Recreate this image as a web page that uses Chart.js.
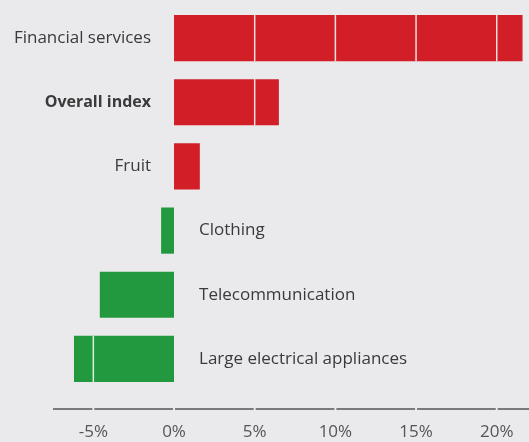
<!DOCTYPE html>
<html>
<head>
<meta charset="utf-8">
<script src="https://cdn.jsdelivr.net/npm/chart.js@4/dist/chart.umd.min.js"></script>
<style>
  html, body { margin: 0; padding: 0; background: #eaeaed; }
  #wrap { width: 529px; height: 442px; }
</style>
</head>
<body>
<div id="wrap"><canvas id="chart" width="529" height="442"></canvas></div>
<script>
// Price change by category, per cent
const categories = ['Financial services', 'Overall index', 'Fruit', 'Clothing', 'Telecommunication', 'Large electrical appliances'];
const changes = [21.6, 6.5, 1.6, -0.8, -4.6, -6.2];
const tickValues = [-5, 0, 5, 10, 15, 20];
const boldCategory = 'Overall index';

const BG = '#eaeaed';
const RED = '#d21f27';
const GREEN = '#22993e';
const TEXT = '#3a3a3a';
const FONT = '"Open Sans", "DejaVu Sans", sans-serif';

// Draws the background, the base axis line, white grid lines over the bars and the category names
const decorations = {
  id: 'decorations',
  beforeDraw(chart) {
    const ctx = chart.ctx;
    ctx.save();
    ctx.fillStyle = BG;
    ctx.fillRect(0, 0, chart.width, chart.height);
    ctx.restore();
  },
  afterDatasetsDraw(chart) {
    const ctx = chart.ctx;
    const xs = chart.scales.x;
    const area = chart.chartArea;
    const meta = chart.getDatasetMeta(0);

    // axis line below the bars, broken at each tick
    const axisY = area.bottom + 18;
    ctx.save();
    ctx.strokeStyle = '#555555';
    ctx.lineWidth = 1.6;
    ctx.beginPath();
    ctx.moveTo(area.left, axisY);
    ctx.lineTo(area.right, axisY);
    ctx.stroke();
    ctx.fillStyle = BG;
    tickValues.forEach(v => {
      const px = xs.getPixelForValue(v);
      ctx.fillRect(px - 1, axisY - 2, 2, 4);
    });
    ctx.restore();

    // white grid lines, visible only across the bars
    meta.data.forEach((el) => {
      const p = el.getProps(['x', 'y', 'base', 'height'], true);
      const left = Math.min(p.x, p.base);
      const right = Math.max(p.x, p.base);
      const top = p.y - p.height / 2;
      const bottom = p.y + p.height / 2;
      ctx.save();
      ctx.strokeStyle = 'rgba(255,255,255,0.85)';
      ctx.lineWidth = 1.5;
      tickValues.forEach(v => {
        if (v === 0) return;
        const px = xs.getPixelForValue(v);
        if (px > left + 1 && px < right - 1) {
          ctx.beginPath();
          ctx.moveTo(px, top);
          ctx.lineTo(px, bottom);
          ctx.stroke();
        }
      });
      ctx.restore();
    });

    // category names: left of zero for rises, right of zero for falls
    const zero = xs.getPixelForValue(0);
    ctx.save();
    ctx.textBaseline = 'middle';
    ctx.fillStyle = TEXT;
    meta.data.forEach((el, i) => {
      const name = categories[i];
      const value = changes[i];
      ctx.font = name === boldCategory ? 'bold 16px ' + FONT : '17px ' + FONT;
      if (value >= 0) {
        ctx.textAlign = 'right';
        ctx.fillText(name, zero - 23, el.y);
      } else {
        ctx.textAlign = 'left';
        ctx.fillText(name, zero + 25, el.y);
      }
    });
    ctx.restore();
  }
};

new Chart(document.getElementById('chart'), {
  type: 'bar',
  data: {
    labels: categories,
    datasets: [{
      data: changes,
      backgroundColor: changes.map(v => v >= 0 ? RED : GREEN),
      borderWidth: 0,
      barPercentage: 0.72,
      categoryPercentage: 1
    }]
  },
  options: {
    indexAxis: 'y',
    responsive: false,
    devicePixelRatio: 1,
    animation: false,
    layout: { padding: { top: 6, left: 53, right: 0, bottom: 0 } },
    plugins: {
      legend: { display: false },
      tooltip: { enabled: false }
    },
    scales: {
      x: {
        type: 'linear',
        min: -7.5,
        max: 22,
        afterBuildTicks(scale) {
          scale.ticks = tickValues.map(v => ({ value: v }));
        },
        afterFit(scale) {
          scale.height = 51;
          scale.paddingLeft = 0;
          scale.paddingRight = 0;
        },
        grid: { display: false, drawTicks: false },
        border: { display: false },
        ticks: {
          padding: 31,
          color: '#555555',
          font: { family: FONT, size: 17 },
          maxRotation: 0,
          callback: v => v + '%'
        }
      },
      y: { display: false }
    }
  },
  plugins: [decorations]
});
</script>
</body>
</html>
